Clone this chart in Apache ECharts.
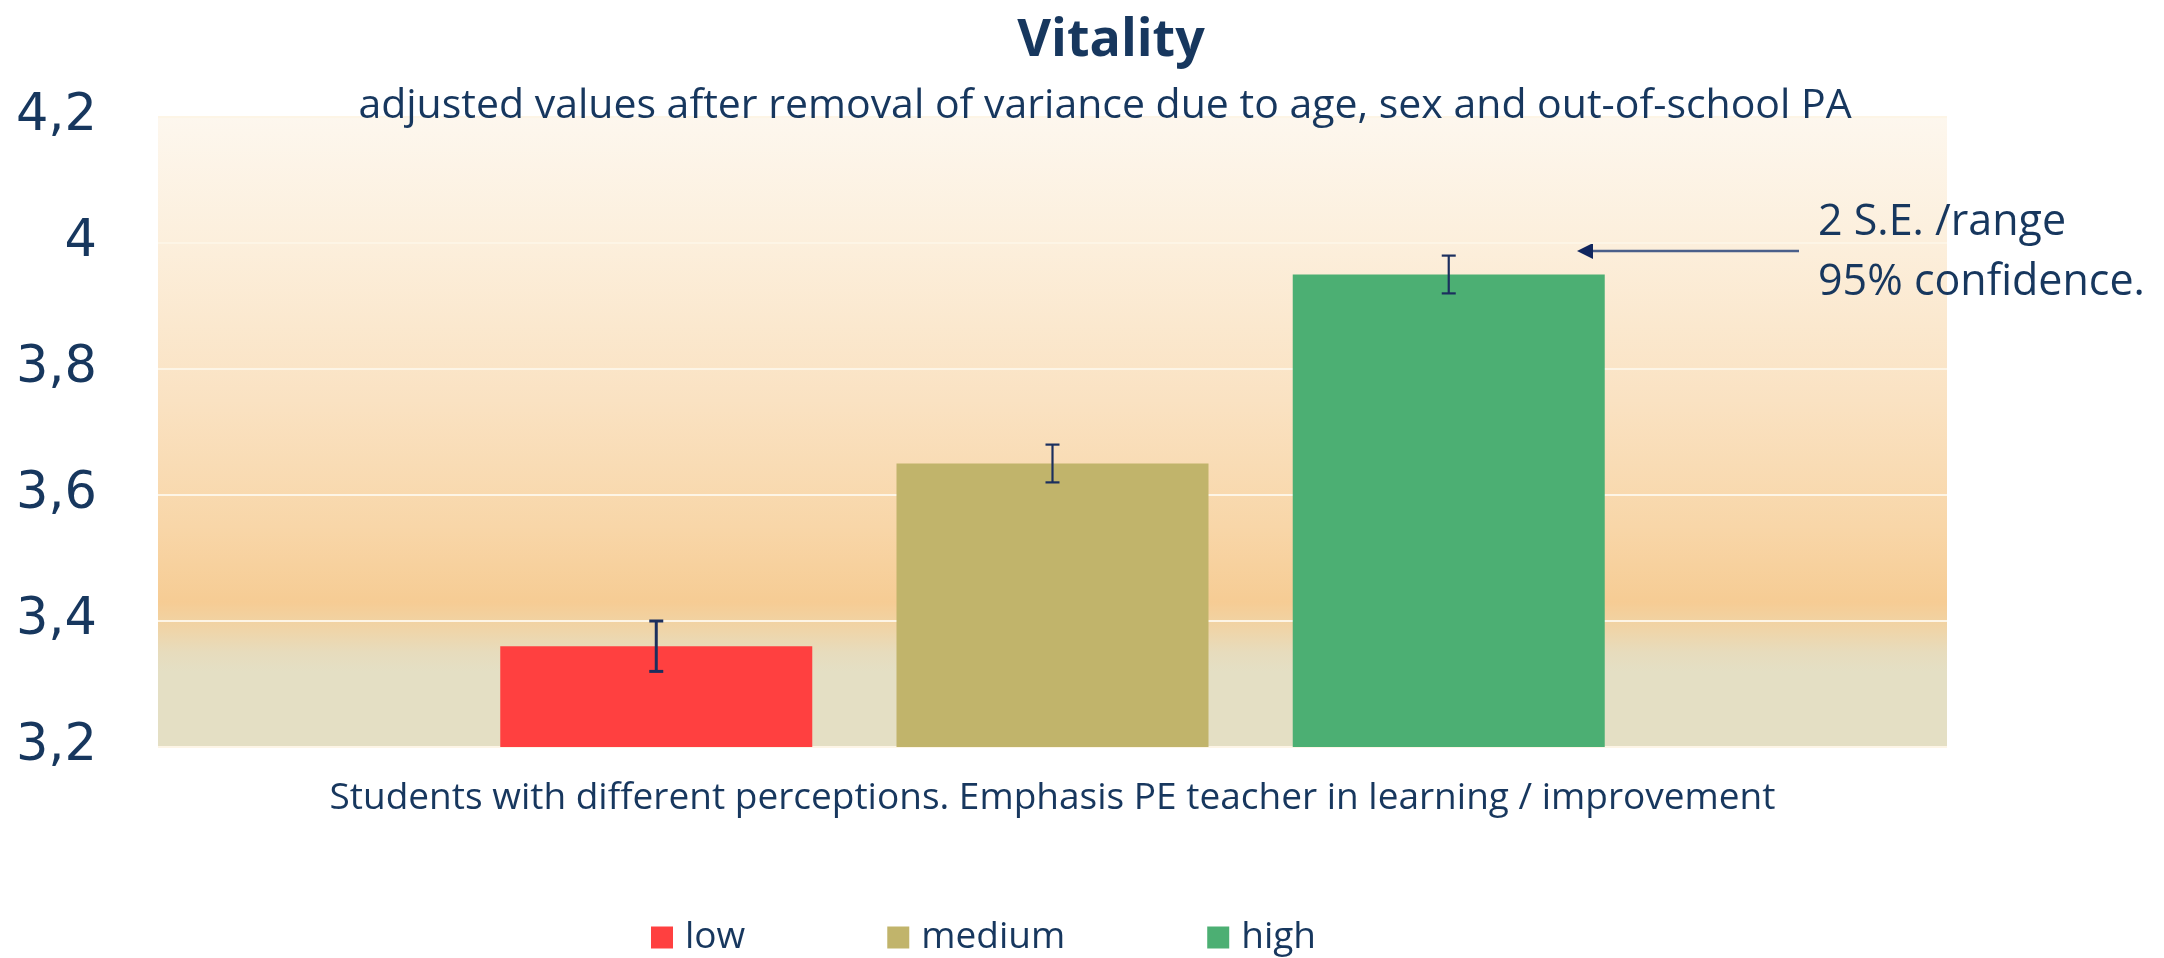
<!DOCTYPE html>
<html>
<head>
<meta charset="utf-8">
<title>Vitality</title>
<script src="https://cdn.jsdelivr.net/npm/echarts@6/dist/echarts.min.js"></script>
<style>
    html, body { margin: 0; padding: 0; background: #ffffff; }
    #chart { width: 2164px; height: 958px; }
</style>
</head>
<body>
<div id="chart"></div>
<script>
// data
var categories = ['Students with different perceptions. Emphasis PE teacher in learning / improvement'];
var groupNames = ['low', 'medium', 'high'];
var meanValues = [3.36, 3.65, 3.95];
var errLow = [3.32, 3.62, 3.92];
var errHigh = [3.40, 3.68, 3.98];
var barColors = ['#ff4040', '#c1b46b', '#4caf73'];
var yTickLabels = ['3,2', '3,4', '3,6', '3,8', '4', '4,2'];
var yMin = 3.2, yMax = 4.2, yStep = 0.2;

var navy = '#17375e';
var barWidth = 312;
var barGapRatio = 0.27;
var barStep = barWidth * (1 + barGapRatio);

var chart = echarts.init(document.getElementById('chart'));

var series = groupNames.map(function (name, i) {
    return {
        name: name,
        type: 'bar',
        data: [meanValues[i]],
        barWidth: barWidth,
        barGap: (barGapRatio * 100) + '%',
        itemStyle: { color: barColors[i] },
        emphasis: { disabled: true }
    };
});

// error bars, one per group, shifted like the bars of the same category
series.push({
    name: 'error',
    type: 'custom',
    z: 10,
    data: groupNames.map(function (n, i) { return [0, errLow[i], errHigh[i], i]; }),
    encode: { x: 0, y: [1, 2] },
    renderItem: function (params, api) {
        var lo = api.coord([api.value(0), api.value(1)]);
        var hi = api.coord([api.value(0), api.value(2)]);
        var x = lo[0] + (api.value(3) - 1) * barStep;
        var cap = 7;
        var st = { stroke: '#1b2f5e', lineWidth: api.value(3) === 0 ? 3 : 2.2 };
        return {
            type: 'group',
            children: [
                { type: 'line', shape: { x1: x, y1: hi[1], x2: x, y2: lo[1] }, style: st },
                { type: 'line', shape: { x1: x - cap, y1: hi[1], x2: x + cap, y2: hi[1] }, style: st },
                { type: 'line', shape: { x1: x - cap, y1: lo[1], x2: x + cap, y2: lo[1] }, style: st }
            ]
        };
    }
});

var option = {
    animation: false,
    textStyle: { fontFamily: 'Open Sans' },
    title: [{
        text: 'Vitality',
        left: 1106,
        textAlign: 'center',
        top: 10,
        textStyle: { fontFamily: 'Open Sans', fontWeight: 'bold', fontSize: 52, color: navy }
    }, {
        text: 'adjusted values after removal of variance due to age, sex and out-of-school PA',
        left: 1100,
        textAlign: 'center',
        top: 81,
        textStyle: { fontFamily: 'Open Sans', fontWeight: 'normal', fontSize: 41, color: navy }
    }],
    legend: {
        data: groupNames,
        left: 646,
        top: 914,
        itemWidth: 22,
        itemHeight: 22,
        itemGap: 142,
        icon: 'rect',
        textStyle: { fontFamily: 'Open Sans', fontSize: 37, color: navy, padding: [0, 0, 0, 7] }
    },
    grid: {
        left: 158,
        right: 217,
        top: 117,
        bottom: 211,
        show: true,
        borderWidth: 0,
        backgroundColor: new echarts.graphic.LinearGradient(0, 0, 0, 1, [
            { offset: 0, color: '#fdf7ee' },
            { offset: 0.2, color: '#fcefdc' },
            { offset: 0.45, color: '#fae2c2' },
            { offset: 0.65, color: '#f8d6a8' },
            { offset: 0.77, color: '#f6cc94' },
            { offset: 0.81, color: '#f0d4a6' },
            { offset: 0.85, color: '#e7dcbd' },
            { offset: 0.88, color: '#e4dfc4' },
            { offset: 1, color: '#e4dfc4' }
        ])
    },
    xAxis: {
        type: 'category',
        data: categories,
        axisLine: { show: false },
        axisTick: { show: false },
        axisLabel: { margin: 33, fontFamily: 'Open Sans', fontSize: 37, color: navy }
    },
    yAxis: {
        type: 'value',
        min: yMin,
        max: yMax,
        interval: yStep,
        axisLine: { show: false },
        axisTick: { show: false },
        splitLine: { lineStyle: { color: '#fdf5e6', width: 2 } },
        axisLabel: {
            margin: 61,
            fontFamily: 'DejaVu Sans',
            fontSize: 51,
            color: navy,
            formatter: function (v) { return yTickLabels[Math.round((v - yMin) / yStep)]; }
        }
    },
    graphic: [{
        type: 'group',
        children: [{
            type: 'line',
            shape: { x1: 1799, y1: 251, x2: 1590, y2: 251 },
            style: { stroke: '#4a5f8a', lineWidth: 2.5 }
        }, {
            type: 'polygon',
            shape: { points: [[1577, 251], [1593, 243], [1593, 259]] },
            style: { fill: '#10265e' }
        }, {
            type: 'text',
            x: 1818,
            y: 193,
            style: {
                text: '2 S.E. /range\n95% confidence.',
                font: '43px "Open Sans"',
                lineHeight: 60,
                fill: navy,
                verticalAlign: 'top'
            }
        }]
    }],
    series: series
};

chart.setOption(option);
</script>
</body>
</html>
